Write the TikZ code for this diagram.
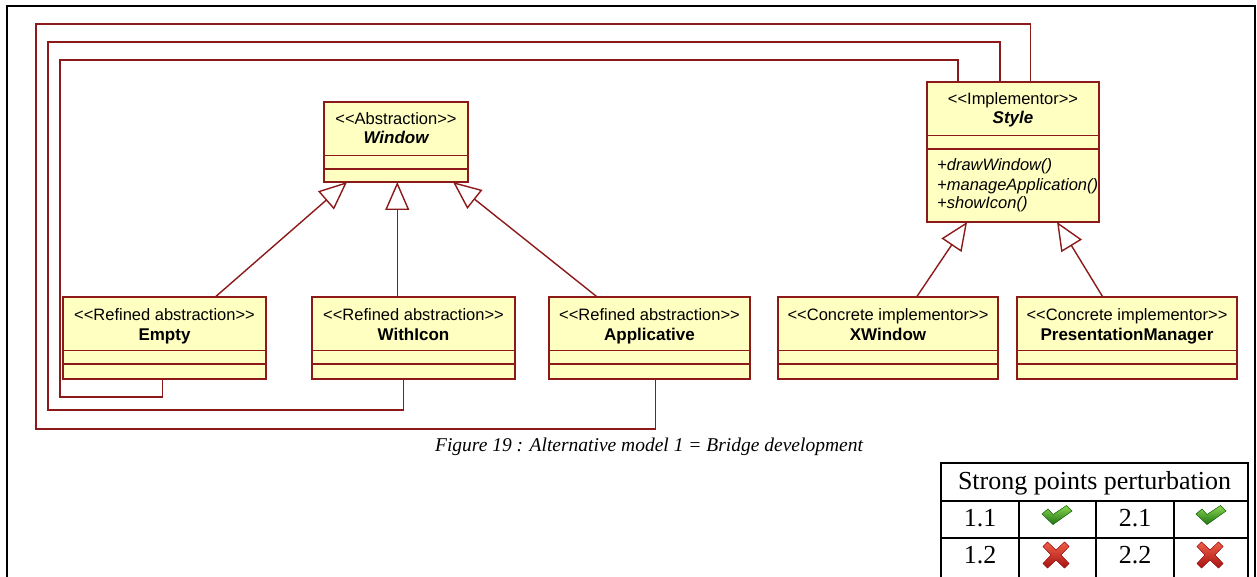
\documentclass[tikz,border=0pt]{standalone}
\usepackage{fontspec}
\setmainfont{Liberation Serif}
\newfontfamily\umlfont{Liberation Sans}
\usetikzlibrary{arrows.meta,calc}
\definecolor{umlred}{RGB}{140,26,26}
\definecolor{umlfill}{RGB}{255,255,194}
\definecolor{chkhi}{RGB}{140,215,80}
\definecolor{chklo}{RGB}{30,115,20}
\definecolor{xhi}{RGB}{240,95,70}
\definecolor{xlo}{RGB}{165,20,20}
\newcommand\umlopen{<\kern0pt<}
\newcommand\umlclose{>\kern0pt>}
\newcommand\classbox[6]{%
  \node[umlbox, minimum width=#4, minimum height=#5] (#1) at (#2,#3) {};
  \draw[comp] ([yshift=-53.5pt]#1.north west) -- ([yshift=-53.5pt]#1.north east);
  \draw[comp] ([yshift=-67pt]#1.north west) -- ([yshift=-67pt]#1.north east);
  \node[stereo] (#1-st) at ([yshift=-23pt]#1.north) {\umlopen#6\umlclose};
}
\begin{document}
\begin{tikzpicture}[x=1pt,y=-1pt,
  umlbox/.style={draw=umlred, fill=umlfill, line width=1.5pt, inner sep=0pt, outer sep=0pt, anchor=north west},
  comp/.style={draw=umlred, line width=1.5pt},
  conn/.style={draw=umlred, line width=1.4pt},
  gen/.style={conn, -{Triangle[open, length=28pt, width=24pt]}},
  stereo/.style={font=\umlfont\fontsize{16.5}{19}\selectfont, inner sep=0pt, anchor=base},
  cname/.style={font=\umlfont\bfseries\fontsize{17}{20}\selectfont, inner sep=0pt, anchor=base},
  aname/.style={font=\umlfont\bfseries\itshape\fontsize{17}{20}\selectfont, inner sep=0pt, anchor=base},
  meth/.style={font=\umlfont\itshape\fontsize{16.5}{19}\selectfont, inner sep=0pt, anchor=base west},
  tab/.style={draw=black, line width=1.5pt},
  tabtxt/.style={font=\fontsize{26}{30}\selectfont, inner sep=0pt, anchor=base},
  chk/.style={top color=chkhi, bottom color=chklo, draw=chklo, line width=0.5pt},
  cross/.style={top color=xhi, bottom color=xlo, draw=xlo, line width=0.5pt}
]
\useasboundingbox (0,0) rectangle (1257,577);
\fill[white] (0,0) rectangle (1257,577);

% outer frame
\draw[line width=2pt] (7,580) -- (7,6) -- (1255,6) -- (1255,580);

% classes
\classbox{window}{324}{102}{144}{80}{Abstraction}
\node[aname] (window-nm) at ([yshift=-42pt]window.north) {Window};

\classbox{style}{927}{82}{172}{140}{Implementor}
\node[aname] (style-nm) at ([yshift=-42pt]style.north) {Style};
\node[meth] (m1) at ([xshift=10pt,yshift=-89pt]style.north west) {+drawWindow()};
\node[meth] (m2) at ([xshift=10pt,yshift=-109pt]style.north west) {+manageApplication()};
\node[meth] (m3) at ([xshift=10pt,yshift=-127pt]style.north west) {+showIcon()};

\classbox{empty}{63}{297}{203}{82}{Refined abstraction}
\node[cname] (empty-nm) at ([yshift=-43pt]empty.north) {Empty};
\classbox{withicon}{312}{297}{203}{82}{Refined abstraction}
\node[cname] (withicon-nm) at ([yshift=-43pt]withicon.north) {WithIcon};
\classbox{applicative}{549}{297}{201}{82}{Refined abstraction}
\node[cname] (applicative-nm) at ([yshift=-43pt]applicative.north) {Applicative};
\classbox{xwindow}{778}{297}{220}{82}{Concrete implementor}
\node[cname] (xwindow-nm) at ([yshift=-43pt]xwindow.north) {XWindow};
\classbox{pm}{1017}{297}{220}{82}{Concrete implementor}
\node[cname] (pm-nm) at ([yshift=-43pt]pm.north) {PresentationManager};

% generalisations
\coordinate (wiT) at ($(withicon.north west)!0.42!(withicon.north east)$);
\draw[gen] ($(empty.north west)!0.75!(empty.north east)$) -- ($(window.south west)!0.16!(window.south east)$);
\draw[gen] (wiT) -- (wiT |- window.south);
\draw[gen] ($(applicative.north west)!0.24!(applicative.north east)$) -- ($(window.south west)!0.896!(window.south east)$);
\draw[gen] ($(xwindow.north west)!0.63!(xwindow.north east)$) -- ($(style.south west)!0.233!(style.south east)$);
\draw[gen] ($(pm.north west)!0.39!(pm.north east)$) -- ($(style.south west)!0.756!(style.south east)$);

% bridge associations
\coordinate (empB) at ($(empty.south west)!0.49!(empty.south east)$);
\coordinate (wiB) at ($(withicon.south west)!0.45!(withicon.south east)$);
\coordinate (apB) at ($(applicative.south west)!0.53!(applicative.south east)$);
\coordinate (stT1) at ($(style.north west)!0.18!(style.north east)$);
\coordinate (stT2) at ($(style.north west)!0.424!(style.north east)$);
\coordinate (stT3) at ($(style.north west)!0.6!(style.north east)$);
\draw[conn] (empB) -- ++(0,18) -| (60,60) -| (stT1);
\draw[conn] (wiB) -- ++(0,31) -| (48,42) -| (stT2);
\draw[conn] (apB) -- ++(0,50) -| (36,24) -| (stT3);

% caption
\node[font=\itshape\fontsize{19.5}{22}\selectfont, inner sep=0pt, anchor=base] (cap) at (649,451) {Figure 19 : Alternative model 1 = Bridge development};

% table
\draw[tab] (941,580) -- (941,463) -- (1248,463) -- (1248,580);
\draw[tab] (941,501) -- (1248,501);
\draw[tab] (941,538) -- (1248,538);
\draw[tab] (1019,501) -- (1019,580);
\draw[tab] (1096,501) -- (1096,580);
\draw[tab] (1174,501) -- (1174,580);
\node[tabtxt] (thead) at (1094.5,489) {Strong points perturbation};
\node[tabtxt] (t11) at (980,526) {1.1};
\node[tabtxt] (t21) at (1135,526) {2.1};
\node[tabtxt] (t12) at (980,563) {1.2};
\node[tabtxt] (t22) at (1135,563) {2.2};

% check marks and crosses
\foreach \dx in {0,154}{
  \begin{scope}[shift={(1042+\dx,506)}]
    \filldraw[chk] (0,8) -- (6,3) -- (11,8.5) -- (24.5,-0.5) -- (30,5) -- (11,18.5) -- cycle;
  \end{scope}
  \begin{scope}[shift={(1056+\dx,555)}]
    \filldraw[cross] (-13,-8.5) -- (-8.5,-13) -- (0,-5) -- (8.5,-13) -- (13,-8.5) -- (5,0) -- (13,8.5) -- (8.5,13) -- (0,5) -- (-8.5,13) -- (-13,8.5) -- (-5,0) -- cycle;
  \end{scope}
}
\end{tikzpicture}
\end{document}
